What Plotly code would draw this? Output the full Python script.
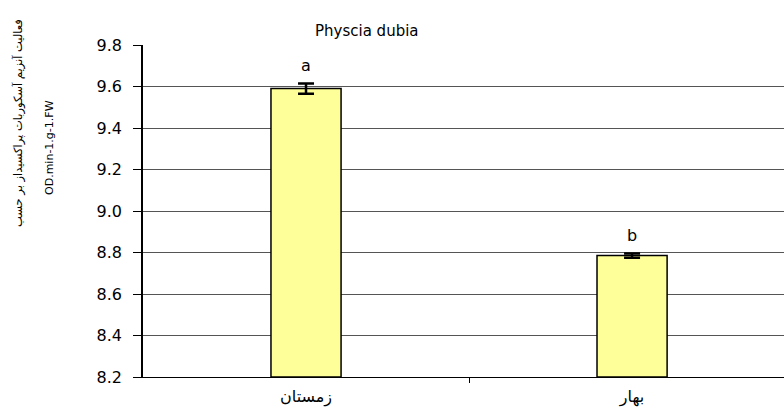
import plotly.graph_objects as go

categories = ["زمستان", "بهار"]
values = [9.59, 8.785]
errors = [0.025, 0.01]
letters = ["a", "b"]
y_ticks = [8.2, 8.4, 8.6, 8.8, 9.0, 9.2, 9.4, 9.6, 9.8]
title_text = "Physcia dubia"
ytitle_line1 = "فعالیت آنزیم آسکوربات پراکسیداز بر حسب"
ytitle_line2 = "OD.min-1.g-1.FW"

FONT = "DejaVu Sans, Verdana, sans-serif"
xpos = list(range(len(categories)))

fig = go.Figure()
fig.add_trace(go.Bar(
    x=xpos, y=[v - 8.2 for v in values], base=8.2,
    width=0.215,
    marker=dict(color="#FFFF99", line=dict(color="#000000", width=1.5)),
    error_y=dict(type="data", array=errors, visible=True, color="#000000",
                 thickness=2.5, width=8),
    showlegend=False,
    hoverinfo="skip",
))

for i, (v, e, l) in enumerate(zip(values, errors, letters)):
    fig.add_annotation(x=i, y=v + e, text=l, showarrow=False, yshift=18,
                       font=dict(family=FONT, size=16, color="#000"))

fig.add_annotation(x=0.349, y=1, xref="paper", yref="paper", text=title_text,
                   showarrow=False, yanchor="middle", yshift=14,
                   font=dict(family=FONT, size=15, color="#000"))

fig.add_annotation(x=-0.195, y=0.765, xref="paper", yref="paper", text=ytitle_line1,
                   textangle=-90, showarrow=False, xanchor="center", yanchor="middle",
                   font=dict(family=FONT, size=11.5, color="#000"))
fig.add_annotation(x=-0.145, y=0.69, xref="paper", yref="paper", text=ytitle_line2,
                   textangle=-90, showarrow=False, xanchor="center", yanchor="middle",
                   font=dict(family=FONT, size=11, color="#000"))

fig.update_layout(
    width=784, height=410,
    margin=dict(l=143, r=0, t=45, b=33),
    plot_bgcolor="white", paper_bgcolor="white",
    font=dict(family=FONT, size=16, color="#000"),
    xaxis=dict(
        range=[-0.5, 1.466],
        tickvals=xpos, ticktext=categories, ticks="",
        showgrid=False, showline=True, linecolor="#000", linewidth=1,
        minor=dict(tickvals=[0.5], ticks="outside", ticklen=5, tickcolor="#000", showgrid=False),
        tickfont=dict(family=FONT, size=16),
        ticklabelstandoff=5,
        zeroline=False,
    ),
    yaxis=dict(
        range=[8.2, 9.8], tickvals=y_ticks,
        ticktext=[f"{t:.1f}" for t in y_ticks],
        ticks="outside", ticklen=8, tickcolor="#000",
        showline=True, linecolor="#000", linewidth=1.5,
        showgrid=True, gridcolor="#555", gridwidth=1,
        tickfont=dict(family=FONT, size=16),
        ticklabelstandoff=8,
        zeroline=False,
    ),
)

fig.write_html("out.html", config={"displayModeBar": False},
               post_script="document.body.style.margin='0';")
